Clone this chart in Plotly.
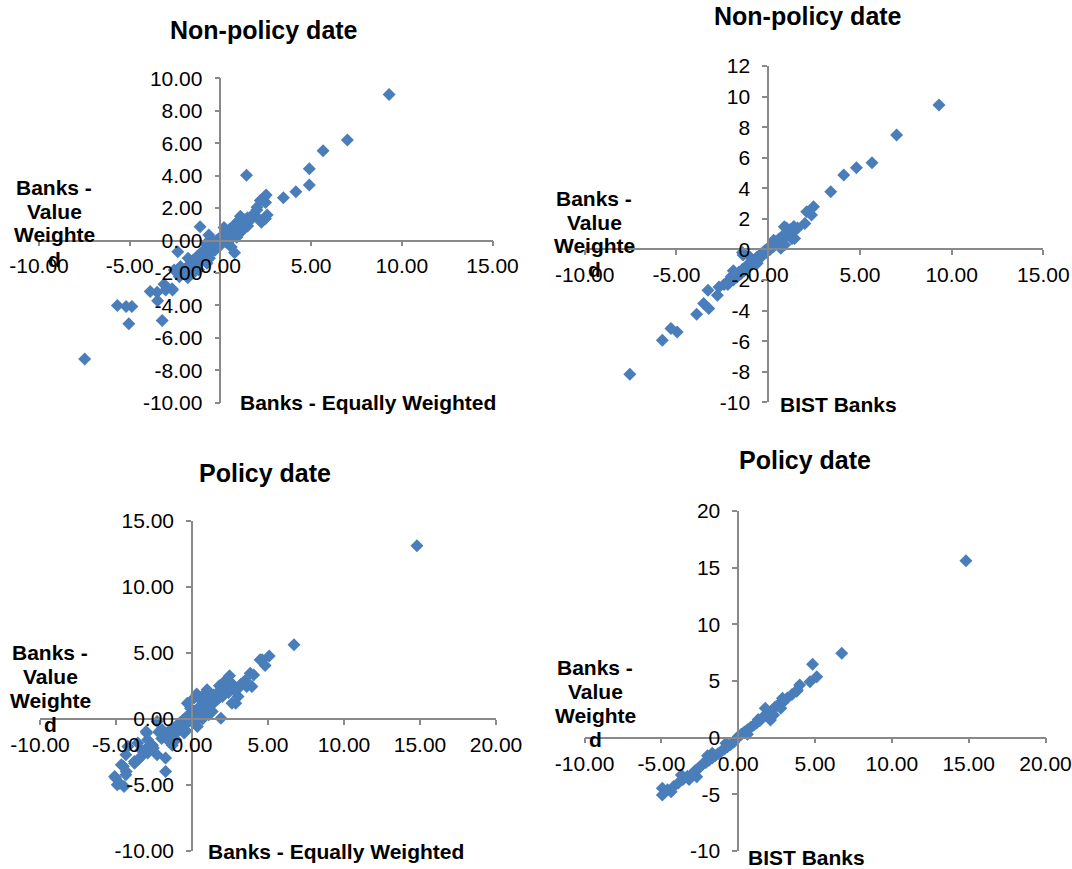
import plotly.graph_objects as go

# ---------------- DATA ----------------
# Panel 1: Non-policy date, Banks - Equally Weighted (x) vs Banks - Value Weighted (y)
p1_x = [9.3, 7.0, 5.66, 4.9, 4.9, 4.16, 3.47, 1.44, 2.52, 2.39, 2.49, 2.58, 2.26, 2.01,
        -1.12, -2.35, 0.78, -0.64, -5.68, -5.2, -4.88, -5.05, -7.48, -3.87, -3.46, -3.21,
        -3.11, -3.02, -2.64, -2.55, -2.26, -1.78, -1.5, -0.74, 2.2, 2.02, 2.48, 2.02,
        -3.49, -2.66, -2.39, -1.65,
        -1.9, -1.7, -1.6, -1.5, -1.4, -1.3, -1.2, -1.1, -1.0, -0.9, -0.9, -0.8, -0.7, -0.7,
        -0.6, -0.5, -0.5, -0.4, -0.4, -0.3, -0.3, -0.2, -0.2, -0.1, -0.1, 0.0, 0.0, 0.1, 0.1,
        0.2, 0.2, 0.3, 0.3, 0.4, 0.4, 0.5, 0.5, 0.6, 0.6, 0.7, 0.7, 0.8, 0.8, 0.9, 1.0, 1.0,
        1.1, 1.2, 1.2, 1.3, 1.4, 1.5, 1.5, 1.6, 1.7, 0.6, 0.9, -1.2, -0.6, 0.2, -0.8, 1.1,
        -2.0, -1.8, -2.2]
p1_y = [9.0, 6.2, 5.53, 4.42, 3.42, 3.0, 2.63, 4.03, 2.8, 2.63, 2.35, 1.57, 1.12, 1.88,
        0.85, -0.69, -0.75, 0.34, -4.01, -4.07, -4.07, -5.14, -7.31, -3.15, -3.72, -4.93,
        -2.7, -3.05, -3.05, -1.82, -2.23, -1.1, -2.02, -1.4, 2.47, 2.05, 1.34, 1.44,
        -3.19, -2.98, -1.85, -1.85,
        -1.7, -1.5, -1.9, -1.2, -1.6, -1.0, -1.4, -0.8, -1.2, -0.6, -1.0, -0.9, -0.4, -0.8,
        -0.6, -0.2, -0.7, -0.5, -0.1, -0.3, -0.6, 0.0, -0.4, -0.2, 0.1, 0.0, -0.3, 0.2, -0.1,
        0.1, 0.4, 0.2, -0.1, 0.5, 0.2, 0.3, 0.7, 0.4, 0.1, 0.8, 0.5, 0.6, 1.0, 0.7, 0.9, 1.2,
        0.8, 1.1, 0.6, 1.3, 1.0, 1.4, 0.9, 1.2, 1.5, -0.4, 0.2, -1.8, -1.1, 0.8, -0.2, 1.5,
        -2.0, -2.3, -1.6]

# Panel 2: Non-policy date, BIST Banks (x) vs Banks - Value Weighted (y)
p2_x = [9.31, 7.0, 5.66, 4.81, 4.12, 3.41, 2.47, 2.1, 2.36, 2.0, -7.54, -5.77, -5.3, -4.96,
        -3.9, -3.24, -3.52, -3.28, -2.77, -2.68, -2.21, -2.02, -1.37, 1.44, 0.69, 0.88,
        -2.4, -2.2, -2.0, -1.9, -1.8, -1.7, -1.6, -1.5, -1.4, -1.3, -1.2, -1.1, -1.0, -0.9,
        -0.8, -0.7, -0.6, -0.5, -0.4, -0.3, -0.2, -0.1, 0.0, 0.1, 0.2, 0.3, 0.4, 0.5, 0.6,
        0.7, 0.8, 0.9, 1.0, 1.1, 1.2, 1.3, 1.4, 1.5, 1.6, 1.2, 0.9, -1.0, -0.6, 0.3, -1.9,
        1.0, -1.4, 1.3]
p2_y = [9.45, 7.49, 5.67, 5.35, 4.87, 3.77, 2.79, 2.46, 2.25, 1.7, -8.17, -5.94, -5.18, -5.4,
        -4.24, -3.87, -3.54, -2.67, -2.99, -2.45, -2.12, -1.79, -0.37, 0.72, 0.07, 1.48,
        -2.3, -2.3, -1.9, -2.0, -1.7, -1.8, -1.5, -1.6, -1.3, -1.4, -1.1, -1.2, -0.9, -1.0,
        -0.7, -0.8, -0.5, -0.6, -0.3, -0.4, -0.1, -0.2, 0.1, 0.0, 0.3, 0.2, 0.5, 0.4, 0.7,
        0.6, 0.9, 0.8, 1.1, 1.0, 1.3, 1.2, 1.5, 1.3, 1.4, 0.9, 0.3, -0.5, -0.9, 0.6, -1.4,
        1.4, -0.2, 0.7]

# Panel 3: Policy date, Banks - Equally Weighted (x) vs Banks - Value Weighted (y)
p3_x = [14.8, 6.71, 5.08, 4.62, 4.81, 4.06, 3.94, 3.6, 2.47, 3.03, 2.88, 1.9, 2.13, 2.35,
        0.99, 0.31, -5.03, -4.92, -4.47, -4.51, -4.35, -4.35, -3.78, -3.56, -2.99, -2.88,
        -2.54, -2.3, -1.74, -1.74, -2.3, -3.33, -1.96,
        4.48, 3.83, 3.07, 2.63, 1.33, 0.78, 0.13, -0.31, 0.35, -0.52, -1.06, -3.02, -2.92,
        -3.57, -4.22, -3.35, -2.92, -3.79, -4.65, -4.33, -5.09, -4.76,
        -2.0, -1.8, -1.6, -1.5, -1.4, -1.2, -1.1, -1.0, -0.9, -0.8, -0.7, -0.6, -0.5, -0.4,
        -0.3, -0.2, -0.1, 0.0, 0.1, 0.2, 0.3, 0.4, 0.5, 0.6, 0.7, 0.8, 0.9, 1.0, 1.1, 1.2,
        1.3, 1.4, 1.5, 1.6, 1.7, 1.9, 2.0, 2.2, 2.4, 2.6, 2.8, 3.2, -0.4, 0.2, 0.7, 1.1,
        -1.3, -2.2, -2.6, -3.0, 0.5, 1.8, 3.5, -0.1]
p3_y = [13.13, 5.61, 4.77, 4.47, 4.04, 3.33, 2.45, 2.45, 3.26, 1.69, 1.19, 0.05, 2.83, 2.32,
        2.2, 1.89, -4.49, -5.0, -5.13, -3.61, -4.24, -2.73, -3.36, -3.11, -1.08, -2.1,
        -2.22, -2.73, -2.98, -3.99, -0.2, -2.86, -0.83,
        4.47, 3.46, 2.33, 1.19, 0.55, 1.82, 1.57, 1.19, -0.58, -1.08, -1.59, -0.96, -1.59,
        -1.84, -2.1, -2.35, -2.6, -3.24, -3.49, -3.99, -4.37, -4.88,
        -1.5, -1.2, -1.6, -0.9, -1.3, -0.7, -1.1, -0.5, -0.9, -0.3, -0.7, -0.1, -0.5, 0.1,
        -0.3, 0.3, -0.1, 0.4, 0.1, 0.6, 0.2, 0.8, 0.4, 1.0, 0.6, 1.2, 0.8, 1.4, 1.0, 1.6,
        1.1, 1.8, 1.3, 1.9, 1.5, 2.1, 1.7, 2.4, 2.0, 2.7, 2.2, 2.6, -0.9, -0.2, 0.0, 0.3,
        -2.0, -1.0, -2.0, -2.3, 1.5, 2.5, 2.9, 0.8]

# Panel 4: Policy date, BIST Banks (x) vs Banks - Value Weighted (y)
p4_x = [14.82, 6.74, 4.84, 5.11, 4.67, 4.0, 3.84, 2.88, 2.77, 2.1, 1.76, -4.94, -4.94, -4.37,
        -2.7, -2.59, -1.69,
        -4.6, -4.2, -3.9, -3.6, -3.3, -3.0, -2.8, -2.5, -2.3, -2.1, -1.9, -1.7, -1.5, -1.3,
        -1.1, -0.9, -0.7, -0.5, -0.3, -0.1, 0.0, 0.2, 0.4, 0.6, 0.8, 1.0, 1.2, 1.4, 1.6, 1.8,
        2.0, 2.2, 2.4, 2.6, 2.9, 3.2, 3.5, 3.8, -3.7, -2.0, 0.6, 1.3, -0.8, 2.3, -3.2]
p4_y = [15.6, 7.45, 6.48, 5.38, 4.94, 4.65, 4.21, 3.47, 2.59, 1.56, 2.59, -4.47, -5.06, -4.77,
        -3.44, -2.7, -1.38,
        -4.6, -4.3, -4.0, -3.7, -3.4, -3.2, -2.9, -2.6, -2.3, -2.2, -2.0, -1.8, -1.6, -1.4,
        -1.2, -1.0, -0.8, -0.6, -0.4, -0.1, 0.1, 0.3, 0.5, 0.7, 0.9, 1.1, 1.3, 1.5, 1.8, 2.0,
        2.2, 2.4, 2.7, 2.9, 3.1, 3.5, 3.8, 4.1, -3.3, -1.6, 0.3, 1.6, -0.5, 2.0, -3.7]

titles = ["Non-policy date", "Non-policy date", "Policy date", "Policy date"]
x_titles = ["Banks - Equally Weighted", "BIST Banks", "Banks - Equally Weighted", "BIST Banks"]
y_title_lines = ["Banks -", "Value", "Weighte", "d"]
x_ranges = [[-10, 15], [-10, 15], [-10, 20], [-10, 20]]
y_ranges = [[-10, 10], [-10, 12], [-10, 15], [-10, 20]]
y_dticks = [2, 2, 5, 5]
y_decimals = [2, 0, 2, 0]
x_dtick = 5

# ---------------- LAYOUT ----------------
W, H = 1072, 869
# plot-area pixel boxes: left, right, top, bottom
boxes = [(39.0, 492.5, 78.3, 402.7),
         (584.7, 1043.4, 66.0, 402.3),
         (40.0, 496.0, 521.0, 850.7),
         (584.6, 1045.5, 511.0, 851.0)]
title_pos = [(264, 30), (808, 16), (265, 473), (805, 460)]
xtitle_pos = [(368, 402), (838, 404), (336, 851), (806, 857)]
ytitle_pos = [(54, 187), (594, 198), (50, 652), (595, 667)]
YT_SPACING = 24

FONT = "Liberation Sans, Arial, sans-serif"
AX = "#898989"
MARK = "#4A7EBB"


def ticks(lo, hi, step, dec):
    vals = []
    v = lo
    while v <= hi + 1e-9:
        vals.append(v)
        v += step
    txt = [("%." + str(dec) + "f") % v for v in vals]  # ASCII hyphen minus like Excel
    return vals, txt


fig = go.Figure()
layout = {}
annotations = []
xs = [p1_x, p2_x, p3_x, p4_x]
ys = [p1_y, p2_y, p3_y, p4_y]

for i in range(4):
    n = "" if i == 0 else str(i + 1)
    l, r, t, b = boxes[i]
    xd = [l / W, r / W]
    yd = [1 - b / H, 1 - t / H]
    xr, yr = x_ranges[i], y_ranges[i]
    xpos = xd[0] + (0 - xr[0]) / (xr[1] - xr[0]) * (xd[1] - xd[0])
    ypos = yd[0] + (0 - yr[0]) / (yr[1] - yr[0]) * (yd[1] - yd[0])
    xtv, xtt = ticks(xr[0], xr[1], x_dtick, 2)
    ytv, ytt = ticks(yr[0], yr[1], y_dticks[i], y_decimals[i])
    fig.add_trace(go.Scatter(x=xs[i], y=ys[i], mode="markers",
                             marker=dict(symbol="diamond", size=10, color=MARK),
                             xaxis="x" + n, yaxis="y" + n, showlegend=False,
                             hoverinfo="skip", cliponaxis=False))
    layout["xaxis" + n] = dict(domain=xd, range=xr, anchor="free", position=ypos,
                               tickmode="array", tickvals=xtv, ticktext=xtt,
                               showgrid=False, automargin=False,
                               zeroline=False, showline=True, linecolor=AX, linewidth=1.5,
                               ticks="outside", ticklen=5, tickcolor=AX, tickwidth=1.5,
                               tickangle=0, ticklabelstandoff=2,
                               tickfont=dict(family=FONT, size=21, color="black"))
    layout["yaxis" + n] = dict(domain=yd, range=yr, anchor="free", position=xpos,
                               tickmode="array", tickvals=ytv, ticktext=ytt,
                               showgrid=False, zeroline=False, showline=True,
                               automargin=False,
                               linecolor=AX, linewidth=1.5, ticks="outside", ticklen=5,
                               tickcolor=AX, tickwidth=1.5, ticklabelstandoff=8,
                               tickfont=dict(family=FONT, size=21, color="black"))
    tx, ty = title_pos[i]
    annotations.append(dict(text="<b>%s</b>" % titles[i], x=tx / W, y=1 - ty / H,
                            xref="paper", yref="paper", showarrow=False,
                            xanchor="center", yanchor="middle",
                            font=dict(family=FONT, size=25, color="black")))
    ax_, ay_ = xtitle_pos[i]
    annotations.append(dict(text="<b>%s</b>" % x_titles[i], x=ax_ / W, y=1 - ay_ / H,
                            xref="paper", yref="paper", showarrow=False,
                            xanchor="center", yanchor="middle",
                            font=dict(family=FONT, size=21, color="black")))
    yx, yy = ytitle_pos[i]
    for k, line in enumerate(y_title_lines):
        annotations.append(dict(text="<b>%s</b>" % line, x=yx / W,
                                y=1 - (yy + k * YT_SPACING) / H,
                                xref="paper", yref="paper", showarrow=False,
                                xanchor="center", yanchor="middle",
                                font=dict(family=FONT, size=21, color="black")))

fig.update_layout(width=W, height=H,
                  margin=dict(l=0, r=0, t=0, b=0, pad=0, autoexpand=False),
                  paper_bgcolor="white", plot_bgcolor="white",
                  annotations=annotations, **layout)
fig.write_html("out.html")
